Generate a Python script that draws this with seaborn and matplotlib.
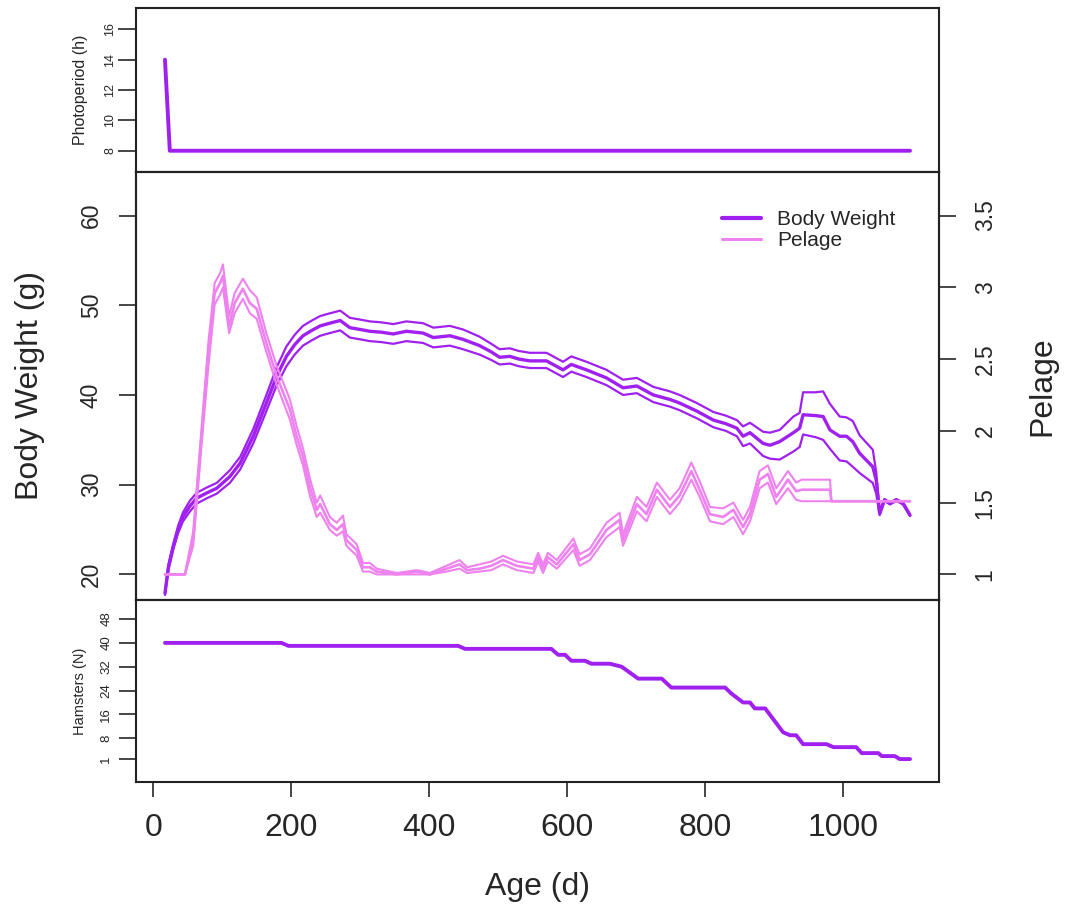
import matplotlib
matplotlib.use("Agg")
import matplotlib.pyplot as plt
import seaborn as sns
import pandas as pd

# ---------------- data ----------------
photo_day = [17, 24, 1097]
photo_hours = [14, 8, 8]

bw_day = [17, 22, 29, 36, 43, 53, 63, 78, 92, 111, 126, 145, 164, 179, 193, 205, 217, 230, 242,
          256, 271, 285, 300, 314, 330, 348, 367, 391, 406, 430, 449, 473, 490, 502, 517, 530,
          546, 570, 594, 606, 628, 657, 681, 701, 725, 749, 763, 788, 812, 830, 846, 855, 865,
          884, 894, 908, 928, 937, 942, 960, 971, 981, 995, 1005, 1014, 1024, 1043, 1048, 1053,
          1060, 1068, 1077, 1087, 1097]
bw_mean = [17.9, 20.8, 23.1, 25.0, 26.4, 27.6, 28.5, 29.1, 29.6, 30.9, 32.4, 35.4, 39.1, 42.1,
           44.3, 45.6, 46.6, 47.2, 47.7, 48.0, 48.3, 47.5, 47.3, 47.1, 47.0, 46.8, 47.1, 46.9,
           46.4, 46.6, 46.2, 45.5, 44.8, 44.2, 44.3, 44.0, 43.8, 43.8, 42.8, 43.4, 42.8, 41.9,
           40.8, 41.0, 40.0, 39.5, 39.1, 38.2, 37.2, 36.8, 36.3, 35.4, 35.8, 34.6, 34.4, 34.8,
           35.8, 36.3, 37.8, 37.7, 37.6, 36.1, 35.4, 35.4, 34.8, 33.5, 32.0, 30.5, 26.8, 28.3,
           27.9, 28.3, 27.9, 26.6]
bw_lower = [17.7, 20.5, 22.8, 24.6, 25.9, 27.0, 27.9, 28.5, 29.0, 30.2, 31.7, 34.6, 38.2, 41.1,
            43.2, 44.5, 45.5, 46.1, 46.6, 46.9, 47.2, 46.4, 46.2, 46.0, 45.9, 45.7, 46.0, 45.8,
            45.3, 45.5, 45.1, 44.5, 43.9, 43.4, 43.5, 43.2, 43.0, 43.0, 42.0, 42.6, 42.0, 41.1,
            40.0, 40.2, 39.2, 38.7, 38.3, 37.4, 36.4, 36.0, 35.4, 34.3, 34.6, 33.2, 32.9, 32.8,
            33.7, 34.2, 35.6, 35.3, 35.0, 34.0, 32.7, 32.6, 32.0, 31.3, 30.2, 29.0, 26.6, 28.2,
            27.8, 28.2, 27.8, 26.5]
bw_upper = [18.1, 21.1, 23.4, 25.4, 26.9, 28.2, 29.1, 29.7, 30.2, 31.6, 33.1, 36.2, 40.0, 43.1,
            45.4, 46.7, 47.7, 48.3, 48.8, 49.1, 49.4, 48.6, 48.4, 48.2, 48.1, 47.9, 48.2, 48.0,
            47.5, 47.7, 47.3, 46.5, 45.7, 45.1, 45.2, 44.9, 44.7, 44.7, 43.7, 44.3, 43.7, 42.8,
            41.7, 41.9, 40.9, 40.4, 40.0, 39.1, 38.1, 37.7, 37.2, 36.5, 36.9, 35.9, 35.8, 36.1,
            37.6, 38.0, 40.3, 40.3, 40.4, 39.0, 37.6, 37.5, 37.1, 35.5, 33.9, 31.4, 27.0, 28.4,
            28.0, 28.4, 28.0, 26.7]

pel_day = [17, 46, 58, 70, 80, 89, 97, 101, 110, 118, 130, 140, 150, 164, 179, 198, 208, 217,
           227, 237, 242, 256, 266, 275, 280, 295, 304, 314, 324, 353, 382, 401, 425, 444, 455,
           473, 490, 507, 527, 551, 558, 565, 572, 585, 609, 618, 633, 657, 676, 681, 701, 715,
           730, 749, 763, 780, 792, 807, 826, 841, 855, 865, 879, 891, 903, 920, 932, 940, 981,
           983, 1097]
pel_mean = [1.0, 1.0, 1.26, 1.96, 2.54, 2.96, 3.03, 3.08, 2.73, 2.89, 2.99, 2.89, 2.85, 2.61,
            2.38, 2.15, 1.96, 1.82, 1.61, 1.45, 1.49, 1.35, 1.31, 1.35, 1.24, 1.17, 1.05, 1.05,
            1.02, 1.0, 1.02, 1.0, 1.04, 1.07, 1.03, 1.04, 1.06, 1.10, 1.06, 1.04, 1.12, 1.04,
            1.12, 1.07, 1.21, 1.10, 1.14, 1.31, 1.38, 1.24, 1.49, 1.42, 1.59, 1.47, 1.55, 1.72,
            1.59, 1.42, 1.40, 1.45, 1.33, 1.42, 1.66, 1.70, 1.54, 1.66, 1.58, 1.59, 1.59, 1.51,
            1.51]
pel_lower = [1.0, 1.0, 1.20, 1.90, 2.45, 2.88, 2.95, 3.00, 2.68, 2.82, 2.92, 2.82, 2.78, 2.55,
             2.32, 2.08, 1.90, 1.76, 1.55, 1.40, 1.43, 1.31, 1.27, 1.30, 1.20, 1.13, 1.02, 1.02,
             1.0, 1.0, 1.0, 1.0, 1.02, 1.04, 1.01, 1.02, 1.03, 1.07, 1.03, 1.01, 1.09, 1.01,
             1.09, 1.04, 1.17, 1.06, 1.10, 1.26, 1.33, 1.20, 1.44, 1.37, 1.54, 1.42, 1.50, 1.66,
             1.54, 1.37, 1.35, 1.40, 1.28, 1.37, 1.60, 1.64, 1.49, 1.60, 1.52, 1.51, 1.51, 1.51,
             1.51]
pel_upper = [1.0, 1.0, 1.30, 2.02, 2.62, 3.03, 3.10, 3.16, 2.80, 2.96, 3.06, 2.98, 2.93, 2.68,
             2.45, 2.22, 2.03, 1.88, 1.67, 1.50, 1.55, 1.40, 1.36, 1.41, 1.28, 1.21, 1.08, 1.08,
             1.04, 1.01, 1.03, 1.01, 1.06, 1.10, 1.05, 1.07, 1.09, 1.13, 1.09, 1.07, 1.15, 1.07,
             1.15, 1.10, 1.25, 1.14, 1.18, 1.36, 1.43, 1.28, 1.54, 1.47, 1.64, 1.52, 1.60, 1.78,
             1.65, 1.47, 1.46, 1.50, 1.38, 1.47, 1.72, 1.76, 1.60, 1.72, 1.64, 1.66, 1.66, 1.51,
             1.51]

ham_day = [17, 186, 196, 442, 452, 577, 587, 597, 606, 626, 635, 662, 679, 691, 703, 737, 751,
           829, 838, 855, 865, 872, 887, 900, 913, 923, 932, 942, 976, 986, 1019, 1027, 1051,
           1056, 1075, 1082, 1097]
ham_n = [40, 40, 39, 39, 38, 38, 36, 36, 34, 34, 33, 33, 32, 30, 28, 28, 25, 25, 23, 20, 20, 18,
         18, 14, 10, 9, 9, 6, 6, 5, 5, 3, 3, 2, 2, 1, 1]

x_ticks = [0, 200, 400, 600, 800, 1000]
photo_ticks = [8, 10, 12, 14, 16]
bw_ticks = [20, 30, 40, 50, 60]
pel_ticks = [1, 1.5, 2, 2.5, 3, 3.5]
pel_ticklabels = ["1", "1.5", "2", "2.5", "3", "3.5"]
ham_ticks = [1, 8, 16, 24, 32, 40, 48]

# ---------------- style ----------------
sns.set_style("white")
plt.rcParams["font.family"] = ["Liberation Sans", "DejaVu Sans"]
plt.rcParams["axes.linewidth"] = 1.5
plt.rcParams["axes.edgecolor"] = "#222222"

PURPLE = "#A020F0"
VIOLET = "#EE82EE"

fig = plt.figure(figsize=(10.66, 9.09), dpi=100)
L, W = 136 / 1066, 803 / 1066
ax_top = fig.add_axes([L, 1 - 172 / 909, W, 164 / 909])
ax_mid = fig.add_axes([L, 1 - 600 / 909, W, 428 / 909])
ax_bot = fig.add_axes([L, 1 - 782 / 909, W, 182 / 909])
ax_pel = ax_mid.twinx()
ax_pel.set_position([L, 1 - 600 / 909, W, 428 / 909])

XLIM = (-25, 1139)


def place_ylabel(ax, text, size, xpix):
    ax.set_ylabel(text, fontsize=size, rotation=90, va="center", ha="center")
    ax.yaxis.set_label_coords((xpix - 136) / 803, 0.5)


# ---- top: photoperiod ----
df_p = pd.DataFrame({"day": photo_day, "h": photo_hours})
sns.lineplot(data=df_p, x="day", y="h", ax=ax_top, color=PURPLE, linewidth=2.8,
             estimator=None, sort=False, legend=False)
ax_top.set_xlim(*XLIM)
ax_top.set_ylim(6.6, 17.4)
ax_top.set_yticks(photo_ticks)
ax_top.set_yticklabels([str(t) for t in photo_ticks], rotation=90, va="center", fontsize=9)
ax_top.set_xticks([])
ax_top.set_xlabel("")
place_ylabel(ax_top, "Photoperiod (h)", 11.5, 80)
ax_top.tick_params(axis="y", direction="out", length=13, width=1.2, pad=1, left=True)

# ---- middle: body weight + pelage ----
for vals, lw in [(bw_lower, 1.6), (bw_upper, 1.6), (bw_mean, 2.4)]:
    sns.lineplot(x=bw_day, y=vals, ax=ax_mid, color=PURPLE, linewidth=lw,
                 estimator=None, sort=False, legend=False)
for vals, lw in [(pel_lower, 1.5), (pel_upper, 1.5), (pel_mean, 1.9)]:
    sns.lineplot(x=pel_day, y=vals, ax=ax_pel, color=VIOLET, linewidth=lw,
                 estimator=None, sort=False, legend=False)

ax_mid.set_xlim(*XLIM)
ax_mid.set_ylim(17.15, 64.85)
ax_pel.set_ylim(1 + (17.15 - 20) / 16, 1 + (64.85 - 20) / 16)
ax_mid.set_xticks([])
ax_mid.set_yticks(bw_ticks)
ax_mid.set_yticklabels([str(t) for t in bw_ticks], rotation=90, va="center", fontsize=16.5)
ax_mid.tick_params(axis="y", direction="out", length=12, width=1.2, pad=12, left=True)
place_ylabel(ax_mid, "Body Weight (g)", 23, 30)

ax_pel.set_yticks(pel_ticks)
ax_pel.set_yticklabels(pel_ticklabels, rotation=90, va="center", fontsize=16.5)
ax_pel.tick_params(axis="y", direction="out", length=12, width=1.2, pad=13, right=True)
place_ylabel(ax_pel, "Pelage", 23, 1042)
ax_pel.set_xticks([])

h_bw = plt.Line2D([], [], color=PURPLE, linewidth=3.0)
h_pel = plt.Line2D([], [], color=VIOLET, linewidth=2.2)
ax_pel.legend([h_bw, h_pel], ["Body Weight", "Pelage"], loc="upper left",
              bbox_to_anchor=((722 - 136) / 803, (600 - 210) / 428), frameon=False,
              fontsize=15, handlelength=1.85, handletextpad=0.8, labelspacing=0.12,
              borderpad=0, borderaxespad=0)

# ---- bottom: hamsters ----
df_h = pd.DataFrame({"day": ham_day, "n": ham_n})
sns.lineplot(data=df_h, x="day", y="n", ax=ax_bot, color=PURPLE, linewidth=2.8,
             estimator=None, sort=False, legend=False)
ax_bot.set_xlim(*XLIM)
ax_bot.set_ylim(-6.7, 54.4)
ax_bot.set_yticks(ham_ticks)
ax_bot.set_yticklabels([str(t) for t in ham_ticks], rotation=90, va="center", fontsize=9.5)
ax_bot.tick_params(axis="y", direction="out", length=12, width=1.2, pad=5, left=True)
place_ylabel(ax_bot, "Hamsters (N)", 10.5, 80)
ax_bot.set_xticks(x_ticks)
ax_bot.set_xticklabels([str(t) for t in x_ticks], fontsize=23)
ax_bot.tick_params(axis="x", direction="out", length=11, width=1.2, pad=11, bottom=True)
ax_bot.set_xlabel("Age (d)", fontsize=23, va="center")
ax_bot.xaxis.set_label_coords(0.5, (782 - 887) / 182)

for ax in (ax_top, ax_mid, ax_bot, ax_pel):
    for s in ax.spines.values():
        s.set_visible(True)
        s.set_linewidth(1.5)
        s.set_color("#222222")

fig.savefig("out.png", dpi=100, facecolor="white")
